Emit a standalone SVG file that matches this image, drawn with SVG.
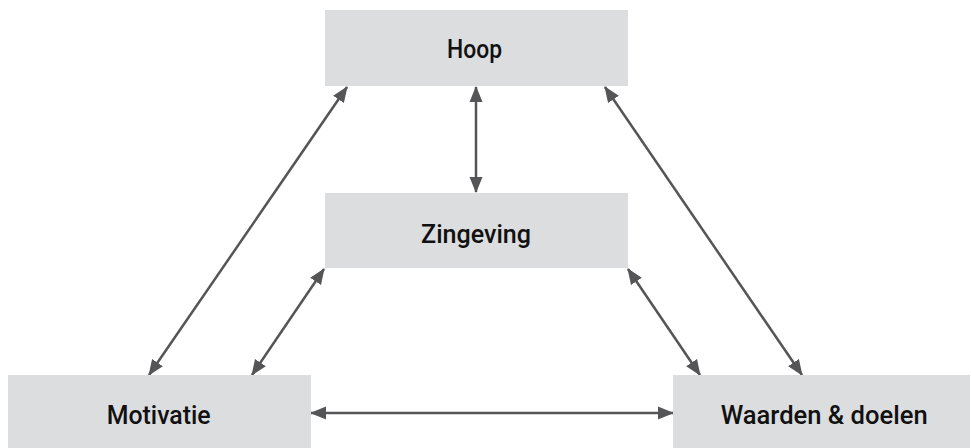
<svg xmlns="http://www.w3.org/2000/svg" width="971" height="448" viewBox="0 0 971 448">
<defs>
<style>
.box{fill:#dcdddf;}
.lbl{font-family:Roboto,"DejaVu Sans",sans-serif;font-weight:500;font-size:25px;fill:#111;}
.con{stroke:#555557;stroke-width:2.5;fill:none;marker-start:url(#ah);marker-end:url(#ah);}
</style>
<marker id="ah" markerUnits="userSpaceOnUse" markerWidth="16" markerHeight="14" refX="15" refY="6.5" orient="auto-start-reverse" viewBox="0 0 16 13">
<path d="M0,0 L16,6.5 L0,13 z" fill="#555557"/>
</marker>
</defs>
<g id="connectors">
<line class="con" x1="476" y1="87" x2="476" y2="192"/>
<line class="con" x1="347" y1="87" x2="149" y2="375"/>
<line class="con" x1="605" y1="87" x2="802" y2="375"/>
<line class="con" x1="324" y1="269" x2="252" y2="375"/>
<line class="con" x1="628" y1="269" x2="700" y2="375"/>
<line class="con" x1="311" y1="413" x2="673" y2="413"/>
</g>
<g id="hoop">
<rect class="box" x="325" y="10" width="303" height="76"/>
<text class="lbl" x="447" y="57.5" textLength="55" lengthAdjust="spacingAndGlyphs">Hoop</text>
</g>
<g id="zingeving">
<rect class="box" x="325" y="193" width="303" height="75"/>
<text class="lbl" x="421" y="242.5" textLength="110" lengthAdjust="spacingAndGlyphs">Zingeving</text>
</g>
<g id="motivatie">
<rect class="box" x="8" y="375" width="303" height="73"/>
<text class="lbl" x="106.7" y="423.5" textLength="104" lengthAdjust="spacingAndGlyphs">Motivatie</text>
</g>
<g id="waarden">
<rect class="box" x="673" y="375" width="297" height="73"/>
<text class="lbl" x="720.7" y="423.5" textLength="207" lengthAdjust="spacingAndGlyphs">Waarden &amp; doelen</text>
</g>
</svg>
